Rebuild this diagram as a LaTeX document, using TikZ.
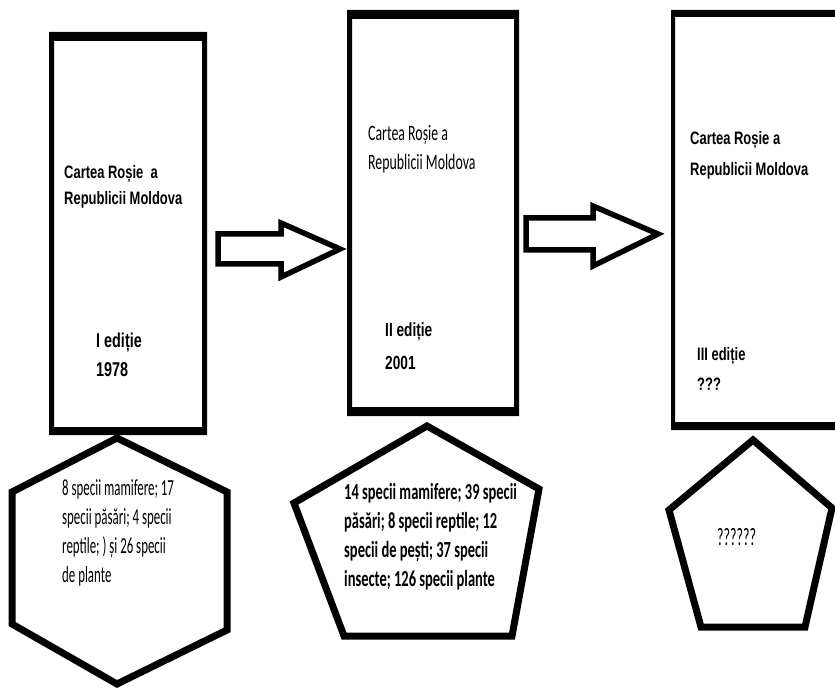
\documentclass[tikz,border=0pt]{standalone}
\usepackage{fontspec}
\setmainfont{Carlito}
% narrow faces for the labels
\newfontfamily\narrowsans[FakeStretch=0.72]{Liberation Sans}
\newfontfamily\narrowcal[FakeStretch=0.63]{Carlito}
\newfontfamily\hexcal[FakeStretch=0.56]{Carlito}
\newfontfamily\pentcal[FakeStretch=0.63]{Carlito}
\begin{document}
\begin{tikzpicture}[x=1pt,y=-1pt,
  lbl/.style={inner sep=0pt, anchor=base west, align=left},
  outline/.style={draw=black, line width=7pt, line join=miter, fill=white},
  blockarrow/.style={draw=black, line width=5.5pt, line join=miter, fill=white},
  frame/.style={fill=black, even odd rule}]
\useasboundingbox (0,0) rectangle (835,692);
\clip (0,0) rectangle (835,692);

% the three book covers
\fill[frame] (49,32) rectangle (207,435) (54,41) rectangle (202,427);
\fill[frame] (347,10) rectangle (519,416) (352,19) rectangle (514,407);
\fill[frame] (671,10) rectangle (850,430) (675,17) rectangle (845,422);

% block arrows between the editions
\coordinate (a1) at (218,234);
\draw[blockarrow] (a1) -- (281,234) -- (281,223) -- (340,249) -- (281,277) -- (281,264) -- (218,264) -- cycle;
\coordinate (a2) at (526,218);
\draw[blockarrow] (a2) -- (593,218) -- (593,206) -- (658,234) -- (593,266) -- (593,250) -- (526,250) -- cycle;

% hexagon under the first edition
\coordinate (h1) at (117,438);
\draw[outline] (h1) -- (227,492) -- (227,630) -- (117,684) -- (12,624) -- (12,492) -- cycle;

% pentagon under the second edition
\coordinate (p1) at (427,426);
\draw[outline] (p1) -- (539,489) -- (512,636) -- (344,636) -- (294,503) -- cycle;

% pentagon under the third edition
\coordinate (q1) at (753,440);
\draw[outline] (q1) -- (832,508) -- (805,627) -- (701,627) -- (669,510) -- cycle;

% cover texts (anchored at the baseline of the last line)
\node[lbl, font={\narrowsans\bfseries\fontsize{18}{26}\selectfont}] (c1) at (64,205) {Cartea Roșie\ \ a\\Republicii Moldova};
\node[lbl, font={\narrowsans\bfseries\fontsize{20}{29}\selectfont}] (e1) at (96,377) {I ediție\\1978};

\node[lbl, font={\narrowcal\fontsize{22}{29}\selectfont}] (c2) at (368,170) {Cartea Roșie a\\Republicii Moldova};
\node[lbl, font={\narrowsans\bfseries\fontsize{19}{33}\selectfont}] (e2) at (385,370) {II ediție\\2001};

\node[lbl, font={\narrowsans\bfseries\fontsize{18}{31}\selectfont}] (c3) at (690,176) {Cartea Roșie a\\Republicii Moldova};
\node[lbl, font={\narrowsans\bfseries\fontsize{18}{30}\selectfont}] (e3) at (697,391) {III ediție\\???};

% species counts
\node[lbl, font={\hexcal\fontsize{23}{29}\selectfont}] (s1) at (62,582) {8 specii mamifere; 17\\specii păsări; 4 specii\\reptile; ) și 26 specii\\de plante};
\node[lbl, font={\pentcal\bfseries\fontsize{23}{29}\selectfont}] (s2) at (344,586) {14 specii mamifere; 39 specii\\păsări; 8 specii reptile; 12\\specii de pești; 37 specii\\insecte; 126 specii plante};
\node[lbl, font={\hexcal\fontsize{25}{29}\selectfont}] (s3) at (717,545) {??????};
\end{tikzpicture}
\end{document}
